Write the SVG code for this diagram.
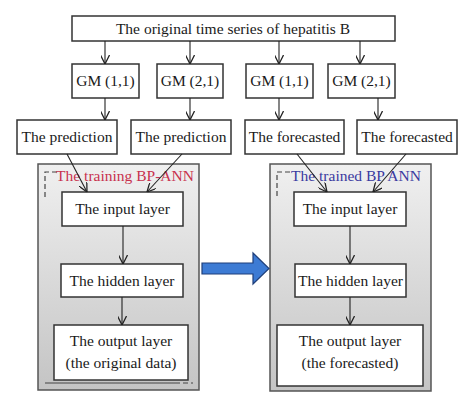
<svg xmlns="http://www.w3.org/2000/svg" width="474" height="407" viewBox="0 0 474 407">
<defs>
<linearGradient id="panel" x1="0" y1="0" x2="0" y2="1">
<stop offset="0" stop-color="#f0f0f0"/>
<stop offset="1" stop-color="#c4c4c4"/>
</linearGradient>
<marker id="ah" viewBox="0 0 10 10" refX="10" refY="5" markerWidth="9" markerHeight="9" markerUnits="userSpaceOnUse" orient="auto">
<path d="M0,0 L10,5 L0,10" fill="none" stroke="#222" stroke-width="1.4"/>
</marker>
</defs>
<style>
.box{fill:#fff;stroke:#333;stroke-width:1.5}
.panel{fill:url(#panel);stroke:#555;stroke-width:1.5}
.t{font-family:"Liberation Serif",serif;font-size:15.5px;fill:#1a1a1a;text-anchor:middle}
.c{stroke:#222;stroke-width:1.1;fill:none;marker-end:url(#ah)}
.dash{stroke:#444;stroke-width:1.2;fill:none;stroke-dasharray:5,3}
.solid{stroke:#444;stroke-width:1.2;fill:none}
</style>
<rect width="474" height="407" fill="#fff"/>

<g id="panel-train">
<rect class="panel" x="38" y="164" width="161" height="226"/>
<path class="dash" d="M57,172 L45,172 L45,198"/>
<path class="solid" d="M45,383 L175,383"/>
<path class="dash" d="M175,383 L193,383"/>
<text class="t" x="125" y="181" style="fill:#c8324e">The training BP-ANN</text>
</g>
<g id="panel-trained">
<rect class="panel" x="270" y="164" width="161" height="227"/>
<path class="dash" d="M290,172 L277,172 L277,198"/>
<text class="t" x="356" y="181" style="fill:#3a3aa0">The trained BP ANN</text>
</g>

<g id="top">
<rect class="box" x="72" y="16" width="323" height="25"/>
<text class="t" x="233" y="33.5">The original time series of hepatitis B</text>
</g>
<g id="gm1"><rect class="box" x="72" y="64" width="67" height="34"/><text class="t" x="105.5" y="86">GM (1,1)</text></g>
<g id="gm2"><rect class="box" x="157" y="64" width="66" height="34"/><text class="t" x="190" y="86">GM (2,1)</text></g>
<g id="gm3"><rect class="box" x="246" y="64" width="67" height="34"/><text class="t" x="279.5" y="86">GM (1,1)</text></g>
<g id="gm4"><rect class="box" x="328" y="64" width="67" height="34"/><text class="t" x="361.5" y="86">GM (2,1)</text></g>

<g id="pred1"><rect class="box" x="17" y="120" width="100" height="34"/><text class="t" x="67" y="142">The prediction</text></g>
<g id="pred2"><rect class="box" x="131" y="120" width="100" height="34"/><text class="t" x="181" y="142">The prediction</text></g>
<g id="fore1"><rect class="box" x="245" y="120" width="99" height="34"/><text class="t" x="294.5" y="142">The forecasted</text></g>
<g id="fore2"><rect class="box" x="357" y="120" width="100" height="34"/><text class="t" x="407" y="142">The forecasted</text></g>

<g id="in1"><rect class="box" x="62" y="192" width="121" height="34"/><text class="t" x="122.5" y="214">The input layer</text></g>
<g id="hid1"><rect class="box" x="61" y="264" width="122" height="33"/><text class="t" x="122" y="286">The hidden layer</text></g>
<g id="out1"><rect class="box" x="54" y="325" width="134" height="55"/><text class="t" x="121" y="346">The output layer</text><text class="t" x="121" y="368">(the original data)</text></g>

<g id="in2"><rect class="box" x="294" y="192" width="112" height="34"/><text class="t" x="350" y="214">The input layer</text></g>
<g id="hid2"><rect class="box" x="295" y="264" width="111" height="33"/><text class="t" x="350.5" y="286">The hidden layer</text></g>
<g id="out2"><rect class="box" x="277" y="325" width="146" height="61"/><text class="t" x="350" y="346">The output layer</text><text class="t" x="350" y="368">(the forecasted)</text></g>

<g id="connectors">
<path class="c" d="M105,41 L105,64"/>
<path class="c" d="M190,41 L190,64"/>
<path class="c" d="M279,41 L279,64"/>
<path class="c" d="M360,41 L360,64"/>
<path class="c" d="M105,98 L105,120"/>
<path class="c" d="M190,98 L190,120"/>
<path class="c" d="M279,98 L279,120"/>
<path class="c" d="M378,98 L378,120"/>
<path class="c" d="M67,154 L87,192"/>
<path class="c" d="M182,154 L147,192"/>
<path class="c" d="M297,154 L327,192"/>
<path class="c" d="M406,154 L373,192"/>
<path class="c" d="M123,226 L123,264"/>
<path class="c" d="M122,297 L122,325"/>
<path class="c" d="M350,226 L350,264"/>
<path class="c" d="M350,297 L350,325"/>
<path d="M202,263 L253,263 L253,253 L269,268.5 L253,284 L253,274 L202,274 Z" fill="#3d7bd4" stroke="#1f3f7a" stroke-width="1.2"/>
</g>
</svg>
